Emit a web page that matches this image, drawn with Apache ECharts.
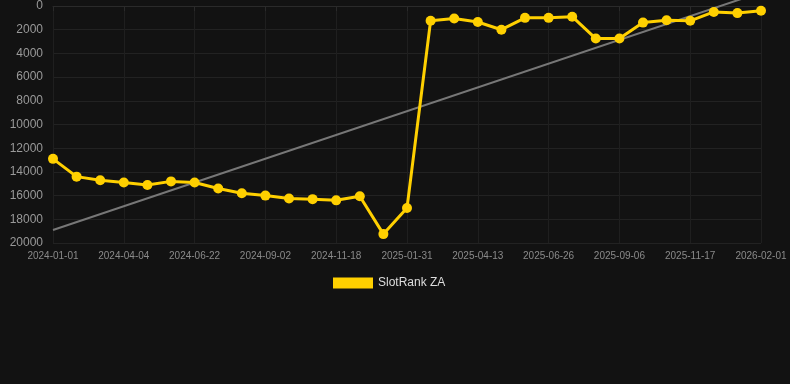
<!DOCTYPE html>
<html>
<head>
<meta charset="utf-8">
<script src="https://cdn.jsdelivr.net/npm/echarts@6/dist/echarts.min.js"></script>
<style>
  html, body { margin: 0; padding: 0; background: #121212; }
  #main { width: 790px; height: 384px; }
</style>
</head>
<body>
<div id="main"></div>
<script>
// dates on the x axis (only every third one gets a label)
var dates = [
    '2024-01-01', '2024-02-01', '2024-03-03', '2024-04-04', '2024-04-30', '2024-05-27',
    '2024-06-22', '2024-07-16', '2024-08-09', '2024-09-02', '2024-09-27', '2024-10-23',
    '2024-11-18', '2024-12-12', '2025-01-06', '2025-01-31', '2025-02-24', '2025-03-20',
    '2025-04-13', '2025-05-07', '2025-06-01', '2025-06-26', '2025-07-20', '2025-08-13',
    '2025-09-06', '2025-09-30', '2025-10-24', '2025-11-17', '2025-12-12', '2026-01-06',
    '2026-02-01'
];
// rank values (lower is better, axis is inverted)
var rankZA = [
    12900, 14400, 14700, 14900, 15100, 14800,
    14900, 15400, 15800, 16000, 16250, 16300,
    16400, 16050, 19250, 17050, 1250, 1050,
    1350, 2000, 1000, 1000, 900, 2750,
    2750, 1400, 1200, 1250, 500, 600,
    400
];
// trend line, first and last value
var trendEnds = [18900, -1150];
var yTicks = [0, 20000, 2000];

var trendData = dates.map(function (d, i) {
    if (i === 0) return trendEnds[0];
    if (i === dates.length - 1) return trendEnds[1];
    return null;
});

var myChart = echarts.init(document.getElementById('main'));
var option = {
    backgroundColor: '#121212',
    animation: false,
    grid: {
        left: 53,
        right: 29,
        top: 6,
        bottom: 141
    },
    legend: {
        data: ['SlotRank ZA'],
        top: 272,
        left: 328,
        icon: 'rect',
        itemWidth: 40,
        itemHeight: 11,
        itemGap: 6,
        textStyle: {
            color: '#dddddd',
            fontSize: 12,
            fontFamily: 'Liberation Sans, Arial, sans-serif'
        }
    },
    xAxis: {
        type: 'category',
        boundaryGap: false,
        data: dates,
        axisLine: {
            show: true,
            lineStyle: { color: '#2a2a2a' }
        },
        axisTick: {
            show: true,
            interval: 2,
            length: 5,
            lineStyle: { color: '#2a2a2a' }
        },
        axisLabel: {
            interval: 2,
            color: '#8a8a8a',
            fontSize: 10,
            margin: 8,
            fontFamily: 'Liberation Sans, Arial, sans-serif'
        },
        splitLine: {
            show: true,
            interval: 2,
            lineStyle: { color: '#1f1f1f' }
        }
    },
    yAxis: {
        type: 'value',
        inverse: true,
        min: yTicks[0],
        max: yTicks[1],
        interval: yTicks[2],
        axisLine: { show: false },
        axisTick: { show: false },
        axisLabel: {
            color: '#999999',
            fontSize: 12,
            margin: 10,
            formatter: function (v) { return String(v); },
            fontFamily: 'Liberation Sans, Arial, sans-serif'
        },
        splitLine: {
            lineStyle: { color: '#222222' }
        }
    },
    series: [
        {
            name: 'trend',
            type: 'line',
            data: trendData,
            connectNulls: true,
            clip: false,
            symbol: 'none',
            silent: true,
            z: 1,
            lineStyle: { color: '#777777', width: 2 }
        },
        {
            name: 'SlotRank ZA',
            type: 'line',
            data: rankZA,
            symbol: 'circle',
            symbolSize: 10,
            z: 3,
            itemStyle: { color: '#ffd000' },
            lineStyle: { color: '#ffd000', width: 3 }
        }
    ]
};
myChart.setOption(option);
</script>
</body>
</html>
